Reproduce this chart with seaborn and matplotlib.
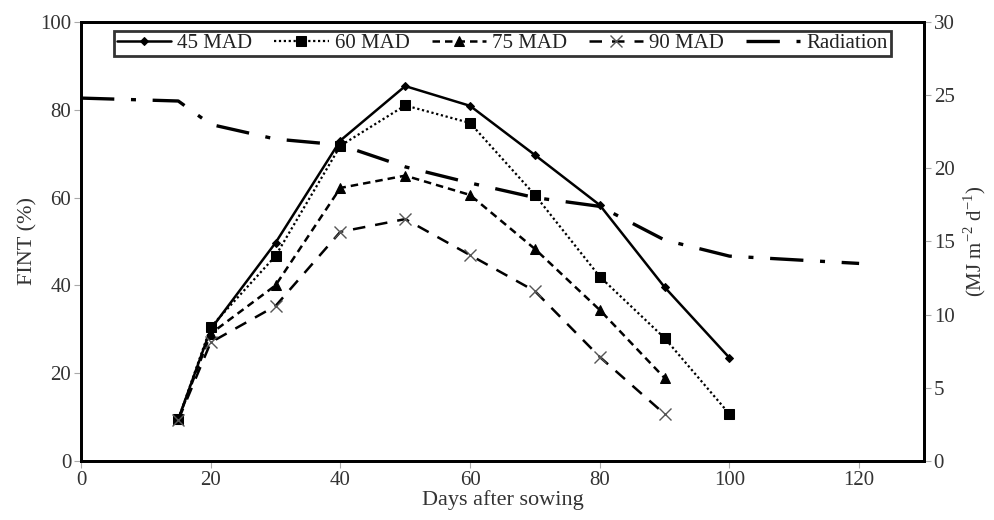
import matplotlib
matplotlib.use("Agg")
import matplotlib.pyplot as plt
import seaborn as sns
import pandas as pd

days = [15, 20, 30, 40, 50, 60, 70, 80, 90, 100]
mad45 = [9.5, 30.0, 49.7, 73.0, 85.4, 80.9, 69.7, 58.3, 39.6, 23.5]
mad60 = [9.5, 30.5, 46.7, 71.8, 81.0, 77.0, 60.6, 42.0, 28.0, 10.7]
days75 = [15, 20, 30, 40, 50, 60, 70, 80, 90]
mad75 = [9.5, 29.0, 40.0, 62.2, 65.0, 60.6, 48.3, 34.4, 18.9]
mad90 = [9.3, 27.0, 35.3, 52.2, 55.1, 46.9, 38.7, 23.7, 10.7]
rad_days = [0, 15, 20, 30, 40, 50, 60, 70, 80, 90, 100, 120]
radiation = [24.8, 24.6, 23.0, 22.0, 21.6, 20.1, 19.0, 18.0, 17.4, 15.1, 14.0, 13.5]

sns.set_style("ticks")
plt.rcParams['font.family'] = ['Liberation Serif', 'DejaVu Serif']
plt.rcParams['mathtext.fontset'] = 'custom'
plt.rcParams['mathtext.rm'] = 'Liberation Serif'

fig = plt.figure(figsize=(9.95, 5.2), dpi=100)
ax = fig.add_axes([0.0814, 0.1135, 0.8472, 0.8442])

series = [
    ("45 MAD", days, mad45, dict(marker="D", markersize=4, linestyle="-", linewidth=1.8,
                                   markeredgecolor="black")),
    ("60 MAD", days, mad60, dict(marker="s", markersize=7, linestyle=(0, (1, 1.2)), linewidth=1.6,
                                   markeredgecolor="black")),
    ("75 MAD", days75, mad75, dict(marker="^", markersize=7, linestyle=(0, (3, 2)), linewidth=1.8,
                                     markeredgecolor="black")),
    ("90 MAD", days75, mad90, dict(marker="x", markersize=8, linestyle=(0, (5, 4)), linewidth=1.8,
                                     markeredgecolor="#555555", markeredgewidth=1.0)),
]
handles = []
for name, xs, ys, kw in series:
    df = pd.DataFrame({"x": xs, "y": ys})
    sns.lineplot(data=df, x="x", y="y", ax=ax, color="black", **kw)
    handles.append(ax.lines[-1])

ax2 = ax.twinx()
dfr = pd.DataFrame({"x": rad_days, "y": radiation})
sns.lineplot(data=dfr, x="x", y="y", ax=ax2, color="black", linewidth=2.4,
             linestyle=(0, (10, 5, 1.5, 5)))
handles.append(ax2.lines[-1])
labels = ["45 MAD", "60 MAD", "75 MAD", "90 MAD", "Radiation"]

ax.set_xlim(0, 130)
ax.set_ylim(0, 100)
ax2.set_ylim(0, 30)
ax.set_xticks([0, 20, 40, 60, 80, 100, 120])
ax.set_yticks([0, 20, 40, 60, 80, 100])
ax2.set_yticks([0, 5, 10, 15, 20, 25, 30])

ax.set_xlabel("Days after sowing", fontsize=16, labelpad=0, color="#333333")
ax.set_ylabel("FINT (%)", fontsize=16, labelpad=2, color="#333333")
ax2.set_ylabel(r"(MJ m$^{-2}$ d$^{-1}$)", fontsize=15, labelpad=5, color="#333333")

for a in (ax, ax2):
    for sp in a.spines.values():
        sp.set_linewidth(2.0)
        sp.set_color("black")
        sp.set_visible(True)
    a.tick_params(axis="both", labelsize=15, colors="#333333", length=5, width=0.8,
                  direction="out", pad=2)
ax.tick_params(axis="both", color="#aaaaaa")
ax2.tick_params(axis="both", color="#aaaaaa")

leg = ax.legend(handles, labels, loc="upper center", ncol=5, bbox_to_anchor=(0.5, 0.99),
                fontsize=15, frameon=True, fancybox=False, handlelength=2.6,
                handletextpad=0.3, columnspacing=1.05, borderpad=0.15, borderaxespad=0.2)
leg.get_frame().set_edgecolor("black")
leg.get_frame().set_linewidth(2.0)
for t in leg.get_texts():
    t.set_color("#222222")

fig.savefig("out.png", dpi=100)
